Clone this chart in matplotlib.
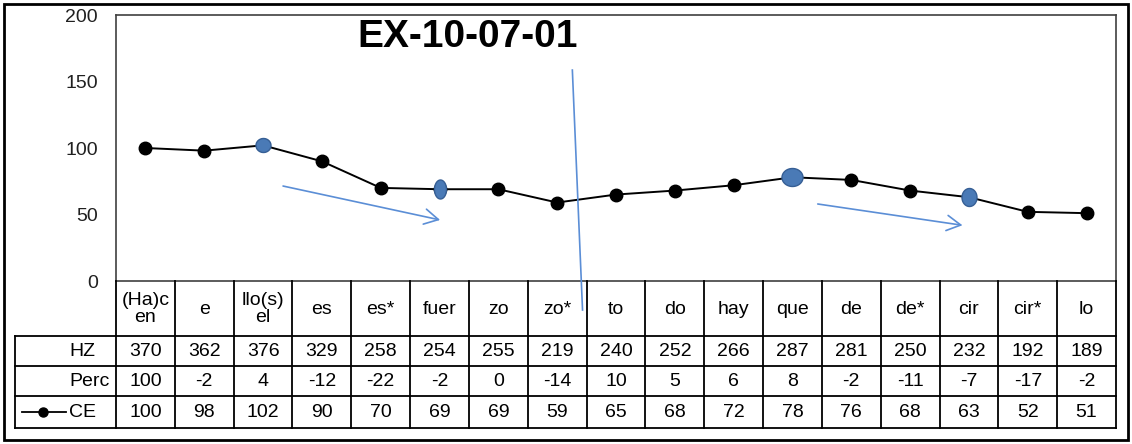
import matplotlib
matplotlib.use('Agg')
import matplotlib.pyplot as plt
from matplotlib.transforms import blended_transform_factory
from matplotlib.path import Path
from matplotlib.lines import Line2D
from matplotlib.patches import Rectangle
import numpy as np

categories = ["(Ha)c\nen", "e", "llo(s)\nel", "es", "es*", "fuer", "zo", "zo*", "to",
              "do", "hay", "que", "de", "de*", "cir", "cir*", "lo"]
hz = [370, 362, 376, 329, 258, 254, 255, 219, 240, 252, 266, 287, 281, 250, 232, 192, 189]
perc = [100, -2, 4, -12, -22, -2, 0, -14, 10, 5, 6, 8, -2, -11, -7, -17, -2]
ce = [100, 98, 102, 90, 70, 69, 69, 59, 65, 68, 72, 78, 76, 68, 63, 52, 51]
row_labels = ["HZ", "Perc", "CE"]
title = "EX-10-07-01"
yticks = [0, 50, 100, 150, 200]
highlight_idx = [2, 5, 11, 14]

# style constants (pixel sizes of highlighted ellipses: width, height)
HL_SHAPES = [(15, 14), (12, 19), (21, 18), (15, 18)]
W, H, DPI = 1132, 444, 100
FONT = 'Liberation Sans'
BLUE = '#4a7ab6'
ARROW_BLUE = '#5b8ed6'

plt.rcParams['font.family'] = [FONT, 'DejaVu Sans']

fig = plt.figure(figsize=(W / DPI, H / DPI), dpi=DPI)
fy = lambda p: 1 - p / H
ax = fig.add_axes([116 / W, 1 - 281 / H, 1000 / W, 266 / H])

x = np.arange(len(categories))
ax.plot(x, ce, color='black', lw=1.4, marker='o', ms=9, zorder=3)

# highlighted ellipse markers
t = np.linspace(0, 2 * np.pi, 80)
for (i, (w, h)) in zip(highlight_idx, HL_SHAPES):
    verts = np.column_stack([w * np.cos(t), h * np.sin(t)])
    mk = Path(verts, closed=True)
    ax.plot(x[i], ce[i], marker=mk, ms=max(w, h) * 72 / DPI, mfc=BLUE,
            mec='#365f95', mew=1.0, ls='none', zorder=4)

ax.set_xlim(-0.5, len(categories) - 0.5)
ax.set_ylim(0, 200)
ax.set_xticks([])
ax.set_yticks(yticks)
ax.tick_params(axis='y', length=0, pad=13, labelsize=14, labelcolor='#202020')
for s in ax.spines.values():
    s.set_color('#404040')
    s.set_linewidth(1.2)

# annotations: arrows and vertical line
aprops = dict(arrowstyle='->,head_length=1.0,head_width=0.55', color=ARROW_BLUE,
              lw=1.2, shrinkA=0, shrinkB=0)
ax.annotate('', xy=(5.01, 45.9), xytext=(2.34, 71.4), arrowprops=aprops, zorder=5)
ax.annotate('', xy=(13.89, 41.9), xytext=(11.43, 57.9), arrowprops=aprops, zorder=5)
ax.plot([7.258, 7.431], [158.6, -21.8], color=ARROW_BLUE, lw=1.2, clip_on=False, zorder=6)

# title
fig.text(468 / W, fy(37), title, ha='center', va='center', fontsize=28,
         fontweight='bold')

# data table
tdx = blended_transform_factory(ax.transData, fig.transFigure)
tax = blended_transform_factory(ax.transAxes, fig.transFigure)
lc = 'black'
lw = 1.3
for k in range(len(categories) + 1):
    xb = k - 0.5
    fig.add_artist(Line2D([xb, xb], [fy(281), fy(428)], transform=tdx, color=lc, lw=lw))
left_frac = (15 - 116) / 1000
fig.add_artist(Line2D([left_frac, left_frac], [fy(336), fy(428)], transform=tax, color=lc, lw=lw))
for yp in [336, 366, 396, 428]:
    fig.add_artist(Line2D([left_frac, 1.0], [fy(yp), fy(yp)], transform=tax, color=lc, lw=lw))

fs = 14
for i, c in enumerate(categories):
    fig.text(i, fy(309), c, transform=tdx, ha='center', va='center', fontsize=fs,
             linespacing=0.95)
row_y = [351, 381, 412]
for vals, yp in zip([hz, perc, ce], row_y):
    for i, v in enumerate(vals):
        fig.text(i, fy(yp), str(v), transform=tdx, ha='center', va='center', fontsize=fs)
lab_frac = (69 - 116) / 1000
for lab, yp in zip(row_labels, row_y):
    fig.text(lab_frac, fy(yp), lab, transform=tax, ha='left', va='center', fontsize=fs)
# legend key for CE
fig.add_artist(Line2D([22 / W, 66 / W], [fy(412), fy(412)], color='black', lw=1.3))
fig.add_artist(Line2D([43 / W], [fy(412)], color='black', marker='o', ms=6.5, ls='none'))

# outer border
fig.add_artist(Rectangle((4 / W, 4 / H), 1124 / W, 436 / H, transform=fig.transFigure,
                         fill=False, ec='black', lw=2))

fig.savefig('out.png', dpi=DPI)
